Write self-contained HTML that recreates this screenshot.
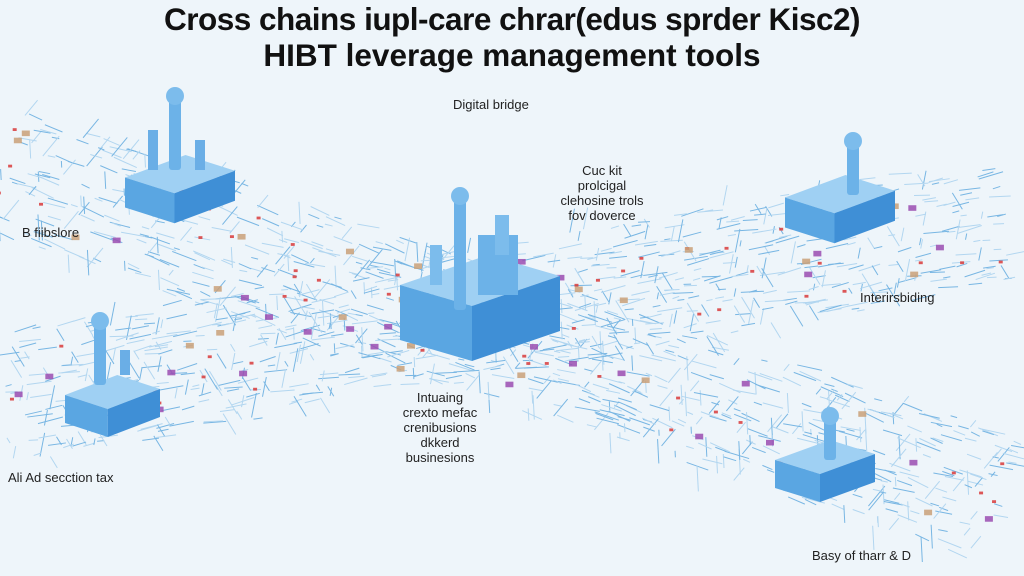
<!DOCTYPE html>
<html><head><meta charset="utf-8"><style>
html,body{margin:0;padding:0;background:#eef5fa;}
#c{position:relative;width:1024px;height:576px;overflow:hidden;background:#eef5fa;font-family:"Liberation Sans",sans-serif;}
.t{position:absolute;color:#222;font-size:13px;line-height:15px;}
h1{position:absolute;margin:0;left:0;width:1024px;text-align:center;font-size:31.5px;font-weight:bold;color:#111;line-height:34px;}
</style></head><body><div id="c">
<svg id="s" width="1024" height="576" style="position:absolute;left:0;top:0">
<g id="bands"></g><g id="dots"></g><g id="blocks"></g>
</svg>
<h1 style="top:2px;letter-spacing:-0.5px">Cross chains iupl-care chrar(edus sprder Kisc2)</h1>
<h1 style="top:38px">HIBT leverage management tools</h1>
<div class="t" style="left:453px;top:97px">Digital bridge</div>
<div class="t" style="left:552px;top:163px;text-align:center;width:100px">Cuc kit<br>prolcigal<br>clehosine trols<br>fov doverce</div>
<div class="t" style="left:22px;top:225px">B fiibslore</div>
<div class="t" style="left:860px;top:290px">Interirsbiding</div>
<div class="t" style="left:385px;top:390px;text-align:center;width:110px">Intuaing<br>crexto mefac<br>crenibusions<br>dkkerd<br>businesions</div>
<div class="t" style="left:8px;top:470px">Ali Ad secction tax</div>
<div class="t" style="left:812px;top:548px">Basy of tharr &amp; D</div>
</div>
<script>
var ns="http://www.w3.org/2000/svg";
function el(p,n,a){var e=document.createElementNS(ns,n);for(var k in a)e.setAttribute(k,a[k]);document.getElementById(p).appendChild(e);return e;}
var seed=7;function r(){seed=(seed*16807)%2147483647;return seed/2147483647;}
function band(x0,y0,x1,y1,w,dots){
 var dx=x1-x0,dy=y1-y0,L=Math.hypot(dx,dy),ux=dx/L,uy=dy/L,nx=-uy,ny=ux;
 for(var i=0;i<800;i++){var t=r(),o=(r()*2-1)*w;var px=x0+dx*t+nx*o,py=y0+dy*t+ny*o;var l=6+r()*20;
  var a=r()<0.7?(r()-0.5)*0.3:(r()<0.5?1.2:-1.2);var cx=ux*Math.cos(a)-uy*Math.sin(a),cy=uy*Math.cos(a)+ux*Math.sin(a);
  el("bands","line",{x1:px,y1:py,x2:px+cx*l,y2:py+cy*l,stroke:r()<0.5?"#78b6e3":"#b2d6f0","stroke-width":1});}
 for(var j=0;j<dots;j++){var t=r(),o=(r()*2-1)*w*0.7;var px=x0+dx*t+nx*o,py=y0+dy*t+ny*o;var q=r();
  var col=q<0.5?"#d83a3a":(q<0.8?"#c9a078":"#9a4cb0");var s=q<0.5?4:8;
  el("dots","rect",{x:px-s/2,y:py-s/3,width:s,height:s*0.7,fill:col,opacity:0.85});}
}
band(0,170,1000,500,65,60);
band(0,400,1000,220,65,60);
function box(x,y,w,d,h){
 el("blocks","polygon",{points:[x,y+d*0.5,x+w*0.55,y,x+w,y+d*0.35,x+w*0.45,y+d*0.85].join(" "),fill:"#9fd0f3"});
 el("blocks","polygon",{points:[x,y+d*0.5,x+w*0.45,y+d*0.85,x+w*0.45,y+d*0.85+h,x,y+d*0.5+h].join(" "),fill:"#5aa6e2"});
 el("blocks","polygon",{points:[x+w*0.45,y+d*0.85,x+w,y+d*0.35,x+w,y+d*0.35+h,x+w*0.45,y+d*0.85+h].join(" "),fill:"#3f8fd6"});
}
function fig(x,y,h){el("blocks","rect",{x:x-6,y:y,width:12,height:h,fill:"#6cb2e8",rx:3});el("blocks","circle",{cx:x,cy:y-4,r:9,fill:"#7cbcec"});}
box(125,155,110,45,30);fig(175,100,70);el("blocks","rect",{x:148,y:130,width:10,height:40,fill:"#6aaee6"});el("blocks","rect",{x:195,y:140,width:10,height:30,fill:"#6aaee6"});
box(785,175,110,45,30);fig(853,145,50);
box(65,375,95,40,28);fig(100,325,60);el("blocks","rect",{x:120,y:350,width:10,height:25,fill:"#6aaee6"});
box(775,440,100,40,28);fig(830,420,40);
box(400,255,160,60,55);fig(460,200,110);
el("blocks","rect",{x:478,y:235,width:40,height:60,fill:"#6cb2e8"});el("blocks","rect",{x:495,y:215,width:14,height:40,fill:"#7cbcec"});el("blocks","rect",{x:430,y:245,width:12,height:40,fill:"#7cbcec"});
</script>
</body></html>
